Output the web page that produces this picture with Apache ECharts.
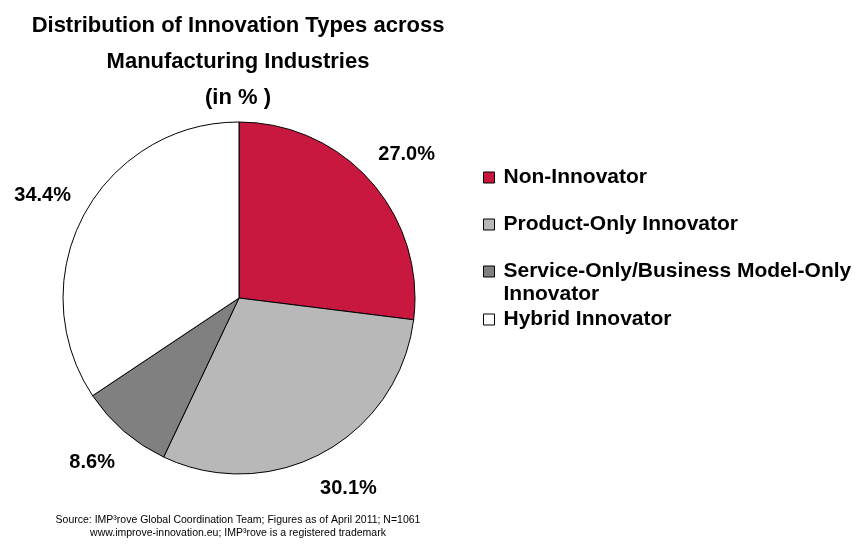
<!DOCTYPE html>
<html>
<head>
<meta charset="utf-8">
<script src="https://cdn.jsdelivr.net/npm/echarts@6/dist/echarts.min.js"></script>
<style>
  html, body { margin: 0; padding: 0; background: #ffffff; }
  #chart { width: 858px; height: 553px; }
</style>
</head>
<body>
<div id="chart"></div>
<script>
// Innovation types in manufacturing industries (share of firms, %)
const categories = [
  'Non-Innovator',
  'Product-Only Innovator',
  'Service-Only/Business Model-Only Innovator',
  'Hybrid Innovator'
];
// legend text; the long entry wraps onto a second line, the leading
// blank line keeps its first line level with the swatch
const legendLabels = [
  'Non-Innovator',
  'Product-Only Innovator',
  '\nService-Only/Business Model-Only\nInnovator',
  'Hybrid Innovator'
];
const shares = [27.0, 30.1, 8.6, 34.4];
const sliceColors = ['#C8183F', '#B8B8B8', '#808080', '#FFFFFF'];

const titleLines = ['Distribution of Innovation Types across', 'Manufacturing Industries', '(in % )'];
const sourceLines = [
  'Source: IMP\u00B3rove Global Coordination Team; Figures as of April 2011; N=1061',
  'www.improve-innovation.eu; IMP\u00B3rove is a registered trademark'
];

const FONT = '"Liberation Sans", Arial, Helvetica, sans-serif';
const pieCenter = [239, 298];
const pieRadius = 176;

// one legend block per entry so each row sits at its own height
const legendTops = [166, 213, 237, 308];
const legends = categories.map((name, i) => ({
  data: [name],
  orient: 'vertical',
  left: 483,
  top: legendTops[i],
  padding: 0,
  itemWidth: 11,
  itemHeight: 11,
  itemGap: 0,
  icon: 'rect',
  selectedMode: false,
  itemStyle: { color: sliceColors[i], borderColor: '#000', borderWidth: 1 },
  formatter: () => legendLabels[i],
  textStyle: {
    fontFamily: FONT,
    fontWeight: 'bold',
    fontSize: 21,
    color: '#000',
    lineHeight: 23,
    padding: [0, 0, 0, 4]
  }
}));

const chart = echarts.init(document.getElementById('chart'), null, { renderer: 'canvas' });
chart.setOption({
  backgroundColor: '#ffffff',
  animation: false,
  title: [
    {
      text: titleLines.join('\n'),
      left: 238,
      top: 8,
      textAlign: 'center',
      padding: 0,
      textStyle: {
        fontFamily: FONT,
        fontWeight: 'bold',
        fontSize: 22,
        lineHeight: 36,
        color: '#000'
      }
    },
    {
      text: sourceLines.join('\n'),
      left: 238,
      top: 514,
      textAlign: 'center',
      padding: 0,
      textStyle: {
        fontFamily: FONT,
        fontWeight: 'normal',
        fontSize: 10.5,
        lineHeight: 13,
        color: '#000'
      }
    }
  ],
  legend: legends,
  series: [{
    type: 'pie',
    center: pieCenter,
    radius: pieRadius,
    startAngle: 90,
    clockwise: true,
    avoidLabelOverlap: false,
    silent: true,
    data: categories.map((name, i) => ({
      name: name,
      value: shares[i],
      itemStyle: { color: sliceColors[i] }
    })),
    itemStyle: { borderColor: '#000', borderWidth: 1 },
    label: {
      show: true,
      position: 'outside',
      formatter: p => p.value.toFixed(1) + '%',
      fontFamily: FONT,
      fontWeight: 'bold',
      fontSize: 20,
      color: '#000'
    },
    labelLine: { show: false, length: 41, length2: 0 },
    // centre each value label on its anchor point
    labelLayout: p => {
      const w = p.labelRect.width;
      return { dx: p.align === 'left' ? -w / 2 : (p.align === 'right' ? w / 2 : 0) };
    }
  }]
});
</script>
</body>
</html>
